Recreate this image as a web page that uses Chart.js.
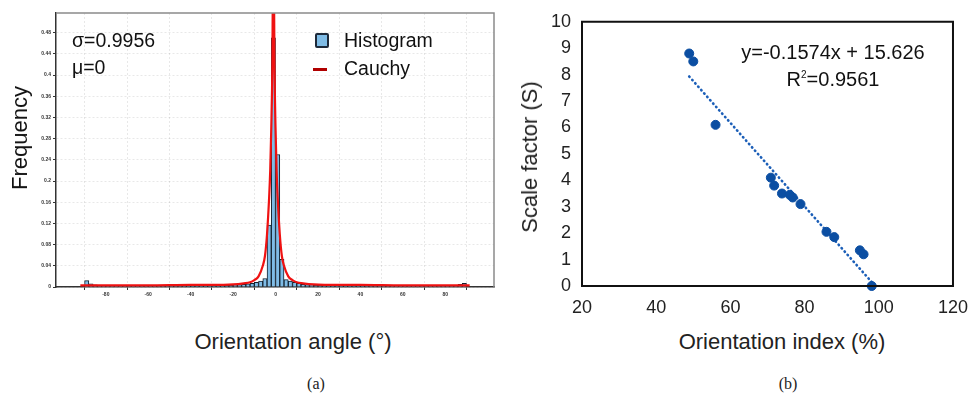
<!DOCTYPE html>
<html>
<head>
<meta charset="utf-8">
<script src="https://cdn.jsdelivr.net/npm/chart.js@4"></script>
<style>
  html, body { margin: 0; padding: 0; background: #fff; }
  body { width: 979px; height: 401px; position: relative; overflow: hidden; font-family: 'Liberation Sans', Arial, sans-serif; }
  canvas { position: absolute; top: 0; }
  .txt { position: absolute; transform: translate(-50%, -50%); white-space: nowrap; color: #111; }
  .left { position: absolute; transform: translate(0, -50%); white-space: nowrap; color: #111; }
  .rot { transform: translate(-50%, -50%) rotate(-90deg); }
  .cap { font-family: 'Liberation Serif', 'Times New Roman', serif; font-size: 16px; color: #222; }
</style>
</head>
<body>
<canvas id="hist" width="500" height="320" style="left:0"></canvas>
<canvas id="scat" width="479" height="320" style="left:500px"></canvas>

<div class="left" style="left:72px; top:40px; font-size:19.5px;">σ=0.9956</div>
<div class="left" style="left:72px; top:67px; font-size:19.5px;">μ=0</div>
<div style="position:absolute; left:315px; top:33px; width:10px; height:11px; background:#7fbce6; border:2px solid #1d2a3a; border-radius:2px;"></div>
<div class="left" style="left:344px; top:40px; font-size:19.5px;">Histogram</div>
<div style="position:absolute; left:313px; top:68px; width:14px; height:3px; background:#b00000;"></div>
<div class="left" style="left:344px; top:68px; font-size:19.5px;">Cauchy</div>
<div class="txt rot" style="left:20px; top:138px; font-size:22px;">Frequency</div>
<div class="txt" style="left:293px; top:342px; font-size:22px; color:#222;">Orientation angle (°)</div>
<div class="txt cap" style="left:316px; top:384px;">(a)</div>

<div class="txt" style="left:833px; top:52px; font-size:20px;">y=-0.1574x + 15.626</div>
<div class="txt" style="left:833px; top:79px; font-size:20px;">R<sup style="font-size:10px;">2</sup>=0.9561</div>
<div class="txt rot" style="left:530px; top:157px; font-size:22px; color:#222;">Scale factor (S)</div>
<div class="txt" style="left:782px; top:342px; font-size:22px; color:#222;">Orientation index (%)</div>
<div class="txt cap" style="left:788px; top:384px;">(b)</div>

<script>
// (a) histogram of orientation angles, 2 degree bins
const binCenters = [-89, -87, -85, -83, -81, -79, -77, -75, -73, -71, -69, -67, -65, -63, -61,
  -59, -57, -55, -53, -51, -49, -47, -45, -43, -41, -39, -37, -35, -33, -31, -29, -27, -25, -23,
  -21, -19, -17, -15, -13, -11, -9, -7, -5, -3, -1, 1, 3, 5, 7, 9, 11, 13, 15, 17, 19, 21, 23, 25,
  27, 29, 31, 33, 35, 37, 39, 41, 43, 45, 47, 49, 51, 53, 55, 57, 59, 61, 63, 65, 67, 69, 71, 73,
  75, 77, 79, 81, 83, 85, 87, 89];
const binFreq = [0.012, 0.006, 0.004, 0.003, 0.003, 0.002, 0.002, 0.002, 0.002, 0.002, 0.002,
  0.002, 0.002, 0.002, 0.002, 0.002, 0.002, 0.002, 0.002, 0.002, 0.002, 0.002, 0.002, 0.002,
  0.002, 0.002, 0.002, 0.002, 0.002, 0.002, 0.002, 0.002, 0.003, 0.003, 0.003, 0.004, 0.004,
  0.005, 0.006, 0.007, 0.009, 0.011, 0.016, 0.117, 0.470, 0.250, 0.052, 0.014, 0.011, 0.009,
  0.007, 0.005, 0.004, 0.004, 0.003, 0.003, 0.003, 0.002, 0.002, 0.002, 0.002, 0.002, 0.002,
  0.002, 0.002, 0.002, 0.002, 0.002, 0.002, 0.002, 0.002, 0.002, 0.002, 0.002, 0.002, 0.002,
  0.002, 0.002, 0.002, 0.002, 0.002, 0.002, 0.002, 0.002, 0.002, 0.002, 0.003, 0.003, 0.005, 0.007];

// fitted Cauchy curve
const cauchyAngle = [-92, -80, -60, -40, -30, -20, -15, -12, -10, -8, -6, -5, -4, -3, -2.5, -2,
  -1.5, -1, -0.5, 0, 0.5, 1, 2, 3, 4, 6, 8, 10, 13, 18, 30, 40, 60, 80, 91.5];
const cauchyFreq = [0.003, 0.003, 0.003, 0.004, 0.004, 0.005, 0.007, 0.009, 0.013, 0.02, 0.04,
  0.058, 0.1, 0.17, 0.22, 0.30, 0.42, 0.70, 0.42, 0.30, 0.22, 0.17, 0.10, 0.058, 0.04, 0.02,
  0.013, 0.009, 0.007, 0.005, 0.004, 0.004, 0.003, 0.003, 0.003];

const angleTicks = [-80, -60, -40, -20, 0, 20, 40, 60, 80];
const freqTicks = [0, 0.04, 0.08, 0.12, 0.16, 0.2, 0.24, 0.28, 0.32, 0.36, 0.4, 0.44, 0.48];

// (b) scale factor vs orientation index
const orientIndex = [48.9, 50.0, 56.0, 70.9, 71.8, 73.9, 76.0, 76.8, 78.9, 85.9, 88.0, 94.9, 95.9, 98.1];
const scaleFactor = [8.8, 8.5, 6.1, 4.1, 3.8, 3.5, 3.45, 3.35, 3.1, 2.05, 1.85, 1.35, 1.2, 0];
const trendX = [48.9, 98.1];
const trendY = [7.93, 0.15];
const indexTicks = [20, 40, 60, 80, 100, 120];
const sfTicks = [0, 1, 2, 3, 4, 5, 6, 7, 8, 9, 10];

Chart.defaults.font.family = "'Liberation Sans', Arial, sans-serif";
Chart.defaults.animation = false;

const toPoints = (xs, ys) => xs.map((x, i) => ({ x: x, y: ys[i] }));

const framePlugin = {
  id: 'frame',
  afterDatasetsDraw(chart, args, opts) {
    const a = chart.chartArea;
    const ctx = chart.ctx;
    ctx.save();
    ctx.strokeStyle = opts.color;
    ctx.lineWidth = opts.width;
    ctx.beginPath();
    if (opts.full) {
      ctx.rect(a.left, a.top, a.right - a.left, a.bottom - a.top);
    } else {
      ctx.moveTo(a.left, a.top);
      ctx.lineTo(a.right, a.top);
      ctx.lineTo(a.right, a.bottom);
    }
    ctx.stroke();
    ctx.restore();
  }
};

new Chart(document.getElementById('hist'), {
  data: {
    datasets: [
      {
        type: 'line',
        label: 'Cauchy',
        data: toPoints(cauchyAngle, cauchyFreq),
        borderColor: '#ef1212',
        borderWidth: 2.2,
        pointRadius: 0,
        cubicInterpolationMode: 'monotone',
        order: 0
      },
      {
        type: 'bar',
        label: 'Histogram',
        data: toPoints(binCenters, binFreq),
        backgroundColor: '#7fbce6',
        borderColor: '#14222f',
        borderWidth: 1,
        barPercentage: 1,
        categoryPercentage: 1,
        order: 1
      }
    ]
  },
  options: {
    responsive: false,
    layout: { padding: { top: 13, right: 6, left: 0, bottom: 0 } },
    plugins: {
      legend: { display: false },
      tooltip: { enabled: false },
      frame: { color: '#8a8a8a', width: 1.5, full: false }
    },
    scales: {
      x: {
        type: 'linear',
        min: -92,
        max: 91.5,
        afterBuildTicks: s => { s.ticks = angleTicks.map(v => ({ value: v })); },
        afterFit: s => { s.height = 33; },
        grid: { color: 'rgba(0,0,0,0.09)', tickLength: 3, tickColor: '#333' },
        border: { color: '#333', width: 1.5, dash: [2, 2] },
        ticks: { color: '#333', font: { size: 5, weight: 'bold' }, padding: 2, maxRotation: 0 }
      },
      y: {
        min: 0,
        max: 0.517,
        afterBuildTicks: s => { s.ticks = freqTicks.map(v => ({ value: v })); },
        afterFit: s => { s.width = 56; },
        grid: { color: 'rgba(0,0,0,0.09)', tickLength: 3, tickColor: '#333' },
        border: { color: '#333', width: 1.5, dash: [2, 2] },
        ticks: {
          color: '#333',
          font: { size: 5, weight: 'bold' },
          padding: 2,
          callback: v => String(Number(v.toFixed(2)))
        }
      }
    }
  },
  plugins: [framePlugin]
});

new Chart(document.getElementById('scat'), {
  data: {
    datasets: [
      {
        type: 'scatter',
        label: 'Scale factor',
        data: toPoints(orientIndex, scaleFactor),
        backgroundColor: '#0b4ea2',
        borderColor: '#0b4ea2',
        pointRadius: 4.5,
        clip: false,
        order: 0
      },
      {
        type: 'line',
        label: 'Linear fit',
        data: toPoints(trendX, trendY),
        borderColor: '#1c5fb8',
        borderWidth: 2.6,
        borderDash: [0.5, 4],
        borderCapStyle: 'round',
        pointRadius: 0,
        order: 1
      }
    ]
  },
  options: {
    responsive: false,
    layout: { padding: { top: 16, right: 20, left: 0, bottom: 0 } },
    plugins: {
      legend: { display: false },
      tooltip: { enabled: false },
      frame: { color: '#111', width: 2, full: true }
    },
    scales: {
      x: {
        type: 'linear',
        min: 20,
        max: 120,
        afterBuildTicks: s => { s.ticks = indexTicks.map(v => ({ value: v })); },
        afterFit: s => { s.height = 34; },
        grid: { display: false, drawTicks: false },
        border: { display: false },
        ticks: { color: '#222', font: { size: 18 }, padding: 11, maxRotation: 0 }
      },
      y: {
        min: 0,
        max: 10,
        afterBuildTicks: s => { s.ticks = sfTicks.map(v => ({ value: v })); },
        afterFit: s => { s.width = 82; },
        grid: { display: false, drawTicks: false },
        border: { display: false },
        ticks: { color: '#222', font: { size: 18 }, padding: 11 }
      }
    }
  },
  plugins: [framePlugin]
});
</script>
</body>
</html>
